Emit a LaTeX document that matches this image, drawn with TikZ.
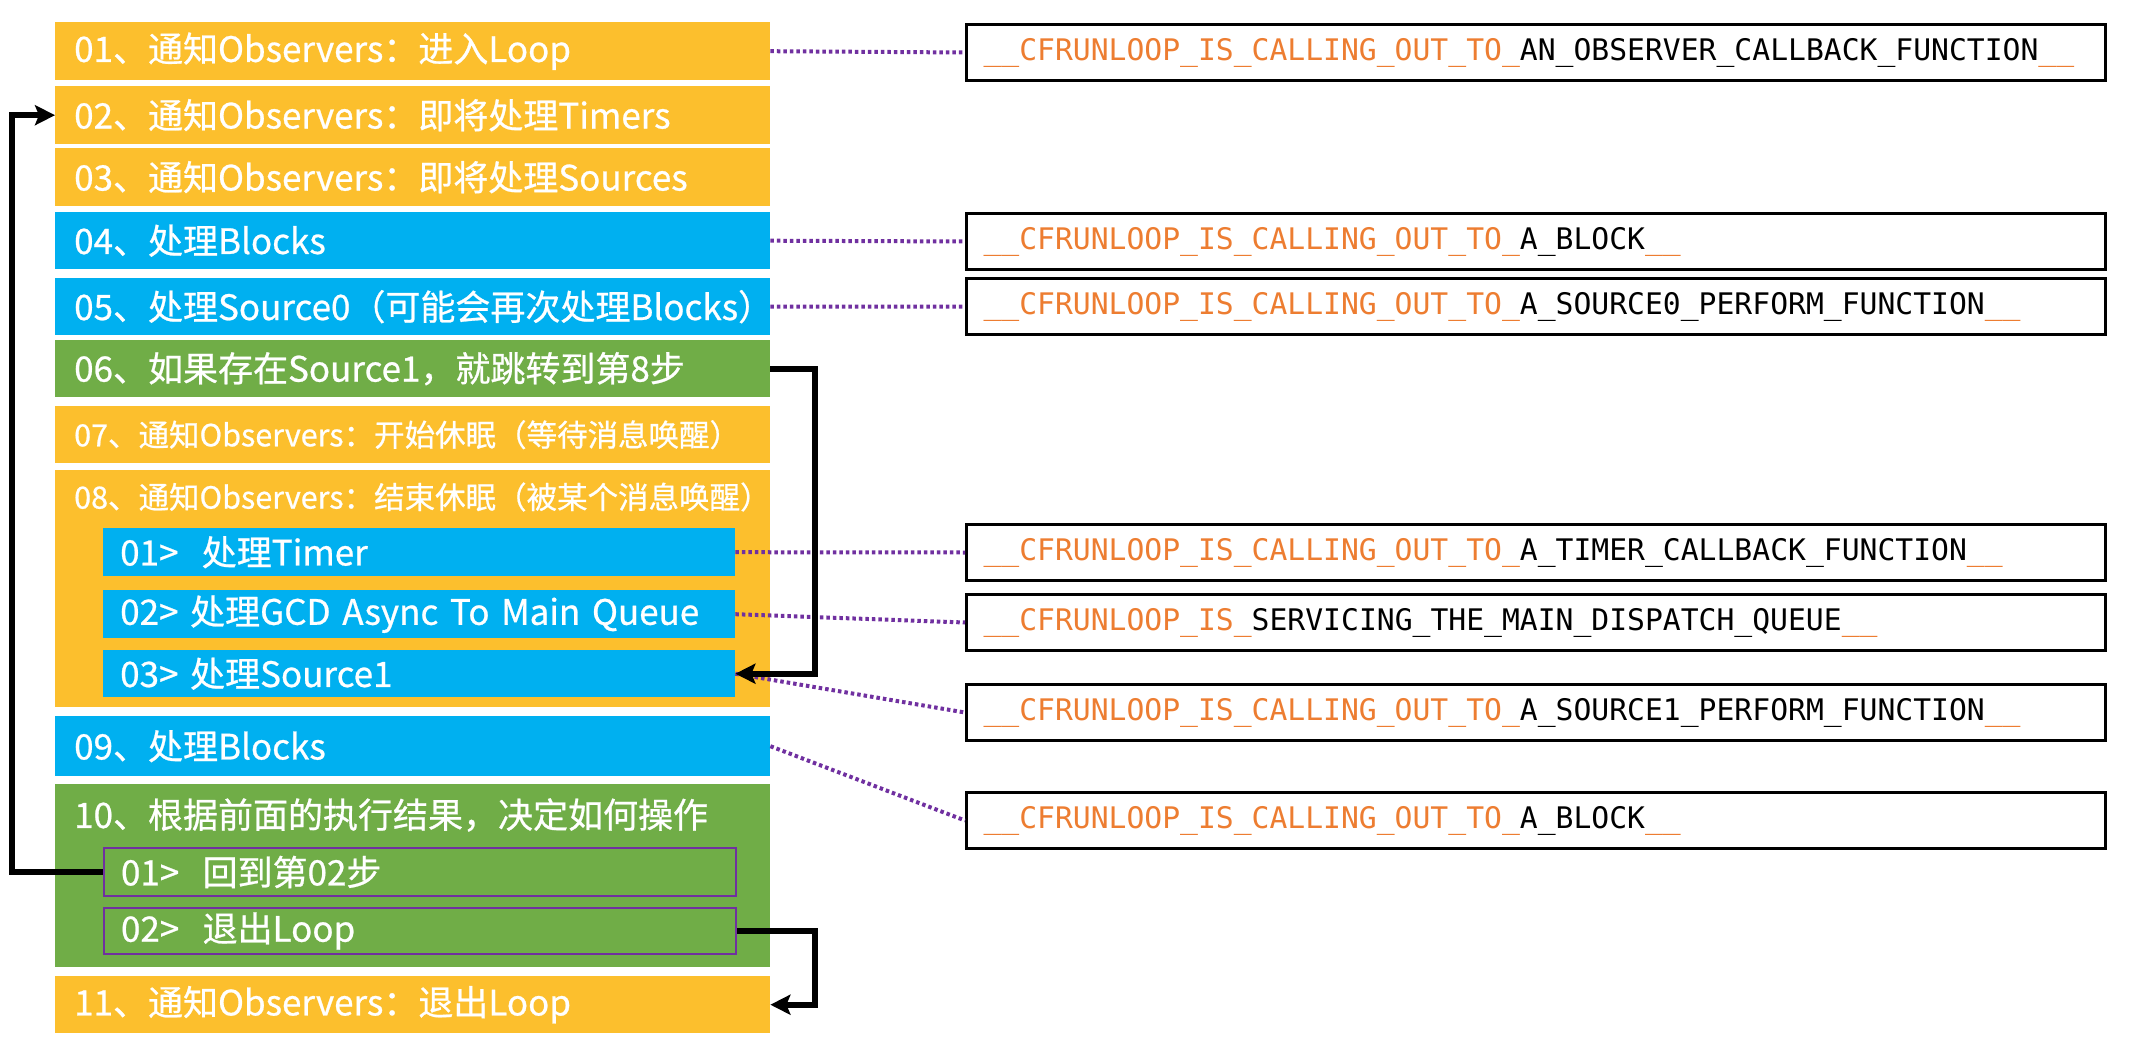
\documentclass[tikz,border=0pt]{standalone}
\usepackage{fontspec}
\newfontfamily\cjk[FakeBold=0.7]{Noto Sans CJK SC}
\newfontfamily\monof{DejaVu Sans Mono}
\usetikzlibrary{arrows.meta,calc}
\definecolor{yel}{RGB}{252,191,45}
\definecolor{blu}{RGB}{0,176,240}
\definecolor{grn}{RGB}{112,173,71}
\definecolor{purp}{RGB}{112,48,160}
\definecolor{org}{RGB}{237,125,49}
\newcommand\orng[1]{\textcolor{org}{#1}}
\begin{document}
\begin{tikzpicture}[x=1pt,y=-1pt,
  box/.style={anchor=north west, minimum width=715pt, minimum height=58pt, inner xsep=19pt, inner ysep=0pt, text width=677pt, align=left, text=white, font=\cjk\fontsize{35}{40}\selectfont},
  small/.style={font=\cjk\fontsize{30.5}{36}\selectfont},
  title/.style={anchor=west, inner xsep=19pt, inner ysep=0pt, text=white, font=\cjk\fontsize{35}{40}\selectfont},
  sub/.style={anchor=north west, minimum width=632pt, minimum height=48pt, inner xsep=17pt, inner ysep=0pt, text width=598pt, align=left, text=white, font=\cjk\fontsize{35}{40}\selectfont},
  fn/.style={anchor=north west, draw=black, line width=3pt, fill=white, minimum width=1139pt, minimum height=56pt, inner xsep=17pt, inner ysep=0pt, text width=1105pt, align=left, font=\monof\fontsize{29.7}{36}\selectfont},
  dot/.style={draw=purp, line width=4pt, dash pattern=on 3.5pt off 3pt},
  arr/.style={line width=6pt, -{Stealth[length=20pt,width=20pt,inset=4pt]}}]
\useasboundingbox (0,0) rectangle (2138,1046);
% left column
\node[box,fill=yel] (b1) at (55,22) {01、通知Observers：进入Loop};
\node[box,fill=yel] (b2) at (55,86) {02、通知Observers：即将处理Timers};
\node[box,fill=yel] (b3) at (55,148) {03、通知Observers：即将处理Sources};
\node[box,fill=blu,minimum height=57pt] (b4) at (55,212) {04、处理Blocks};
\node[box,fill=blu,minimum height=57pt] (b5) at (55,278) {05、处理Source0（可能会再次处理Blocks）};
\node[box,fill=grn,minimum height=57pt] (b6) at (55,340) {06、如果存在Source1，就跳转到第8步};
\node[box,fill=yel,small,minimum height=57pt] (b7) at (55,406) {07、通知Observers：开始休眠（等待消息唤醒）};
\node[box,fill=yel,minimum height=237pt] (b8) at (55,470) {};
\node[title,small] (b8t) at (55,497) {08、通知Observers：结束休眠（被某个消息唤醒）};
\node[sub,fill=blu] (s1) at (103,528) {01>\ \ 处理Timer};
\node[sub,fill=blu] (s2) at (103,590) {02> 处理GCD Async To Main Queue};
\node[sub,fill=blu,minimum height=47pt] (s3) at (103,650) {03> 处理Source1};
\node[box,fill=blu,minimum height=60pt] (b9) at (55,716) {09、处理Blocks};
\node[box,fill=grn,minimum height=183pt] (b10) at (55,784) {};
\node[title] (b10t) at (55,815) {10、根据前面的执行结果，决定如何操作};
\node[sub,fill=grn,draw=purp,line width=2pt] (t1) at (103,847) {01>\ \ 回到第02步};
\node[sub,fill=grn,draw=purp,line width=2pt,minimum height=46pt] (t2) at (103,907) {02>\ \ 退出Loop};
\node[box,fill=yel,minimum height=57pt] (b11) at (55,976) {11、通知Observers：退出Loop};
% right column
\node[fn] (r1) at (965,23) {\orng{\_\_CFRUNLOOP\_IS\_CALLING\_OUT\_TO\_}AN\_OBSERVER\_CALLBACK\_FUNCTION\orng{\_\_}};
\node[fn] (r4) at (965,212) {\orng{\_\_CFRUNLOOP\_IS\_CALLING\_OUT\_TO\_}A\_BLOCK\orng{\_\_}};
\node[fn] (r5) at (965,277) {\orng{\_\_CFRUNLOOP\_IS\_CALLING\_OUT\_TO\_}A\_SOURCE0\_PERFORM\_FUNCTION\orng{\_\_}};
\node[fn] (rT) at (965,523) {\orng{\_\_CFRUNLOOP\_IS\_CALLING\_OUT\_TO\_}A\_TIMER\_CALLBACK\_FUNCTION\orng{\_\_}};
\node[fn] (rS) at (965,593) {\orng{\_\_CFRUNLOOP\_IS\_}SERVICING\_THE\_MAIN\_DISPATCH\_QUEUE\orng{\_\_}};
\node[fn] (rS1) at (965,683) {\orng{\_\_CFRUNLOOP\_IS\_CALLING\_OUT\_TO\_}A\_SOURCE1\_PERFORM\_FUNCTION\orng{\_\_}};
\node[fn] (rB) at (965,791) {\orng{\_\_CFRUNLOOP\_IS\_CALLING\_OUT\_TO\_}A\_BLOCK\orng{\_\_}};
% dotted connectors
\draw[dot] (b1.east) -- (r1.west);
\draw[dot] (b4.east) -- (r4.west);
\draw[dot] (b5.east) -- (r5.west);
\draw[dot] (s1.east) -- (rT.west);
\draw[dot] (s2.east) -- (rS.west);
\draw[dot] (s3.east) -- (rS1.west);
\draw[dot] (b9.east) -- (rB.west);
% arrows
\coordinate (lx) at (12,0);
\coordinate (rx) at (815,0);
\draw[arr] (t1.west) -- (t1.west -| lx) |- (b2.west);
\draw[arr] (b6.east) -- (b6.east -| rx) |- (s3.east);
\draw[arr] (t2.east) -- (t2.east -| rx) |- (b11.east);
\end{tikzpicture}
\end{document}
